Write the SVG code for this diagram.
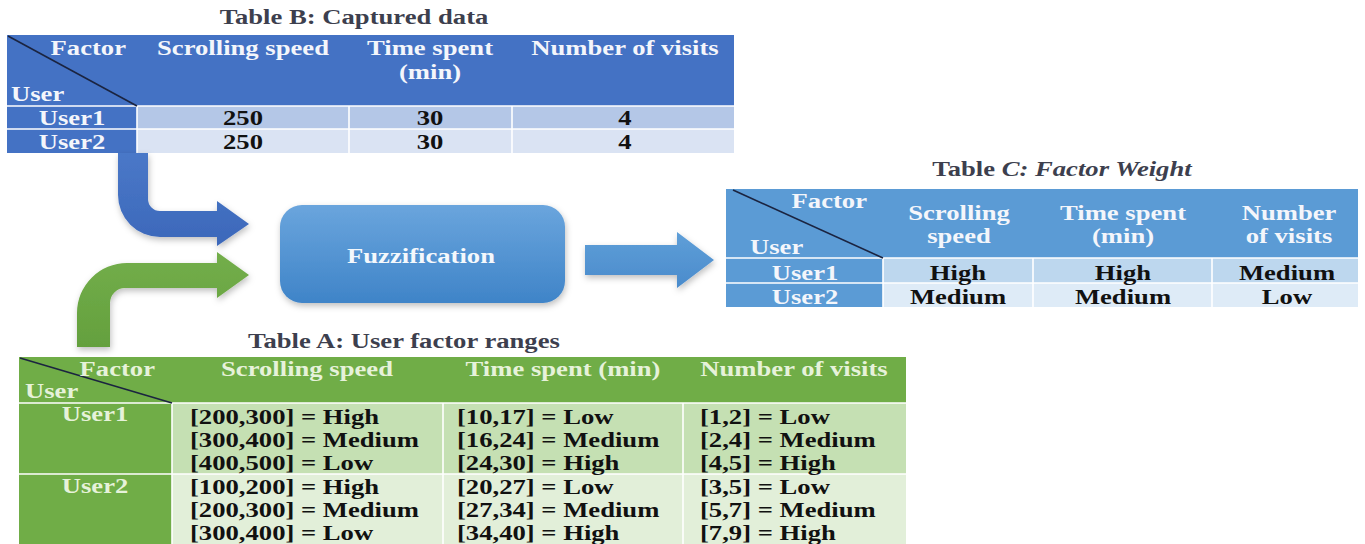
<svg xmlns="http://www.w3.org/2000/svg" width="1365" height="544" viewBox="0 0 1365 544">
<defs>
<style>
text{font-family:"Liberation Serif","Times New Roman",serif;font-weight:bold;font-size:20.5px;fill:#111}
.mid{text-anchor:middle}
.end{text-anchor:end}
.hb{fill:#f4f6fb}
.ha{fill:#e6f2da}
.title{fill:#3d3f4e}
.wl{stroke:#ffffff;stroke-width:1.6}
.diag{stroke:#1b2440;stroke-width:1.6}
</style>
<linearGradient id="gBlue" x1="0" y1="0" x2="0" y2="1"><stop offset="0" stop-color="#4a78c8"/><stop offset="1" stop-color="#3c68ba"/></linearGradient>
<linearGradient id="gGreen" x1="0" y1="0" x2="0" y2="1"><stop offset="0" stop-color="#73ae4a"/><stop offset="1" stop-color="#64a03e"/></linearGradient>
<linearGradient id="gBox" x1="0" y1="0" x2="0" y2="1"><stop offset="0" stop-color="#6aa5dd"/><stop offset="1" stop-color="#3f84c8"/></linearGradient>
<linearGradient id="gRight" x1="0" y1="0" x2="0" y2="1"><stop offset="0" stop-color="#5f9fd8"/><stop offset="1" stop-color="#4a8bcc"/></linearGradient>
<filter id="sh" x="-20%" y="-20%" width="140%" height="150%"><feDropShadow dx="1" dy="3" stdDeviation="3" flood-color="#000" flood-opacity="0.25"/></filter>
</defs>
<rect width="1365" height="544" fill="#ffffff"/>

<g id="tableB">
<text class="title mid" font-size="21" transform="translate(354,24) scale(1.3,1)">Table B: Captured data</text>
<rect x="7" y="35" width="727" height="71" fill="#4472c4"/>
<rect x="7" y="106" width="130" height="47" fill="#4472c4"/>
<rect x="137" y="106" width="597" height="23" fill="#b4c7e7"/>
<rect x="137" y="129" width="597" height="24" fill="#dae3f3"/>
<line class="wl" x1="7" y1="106" x2="734" y2="106"/>
<line class="wl" x1="7" y1="129" x2="734" y2="129"/>
<line class="wl" x1="137" y1="106" x2="137" y2="153"/>
<line class="wl" x1="349" y1="106" x2="349" y2="153"/>
<line class="wl" x1="512" y1="106" x2="512" y2="153"/>
<line class="diag" x1="8" y1="36" x2="137" y2="106"/>
<text class="hb end" transform="translate(126,55) scale(1.3,1)">Factor</text>
<text class="hb" transform="translate(11,101) scale(1.3,1)">User</text>
<text class="hb mid" transform="translate(243,55) scale(1.3,1)">Scrolling speed</text>
<text class="hb mid" transform="translate(430,55) scale(1.3,1)">Time spent</text>
<text class="hb mid" transform="translate(430,79) scale(1.3,1)">(min)</text>
<text class="hb mid" transform="translate(625,55) scale(1.3,1)">Number of visits</text>
<text class="hb mid" transform="translate(72,125) scale(1.3,1)">User1</text>
<text class="mid" transform="translate(243,125) scale(1.3,1)">250</text>
<text class="mid" transform="translate(430,125) scale(1.3,1)">30</text>
<text class="mid" transform="translate(625,125) scale(1.3,1)">4</text>
<text class="hb mid" transform="translate(72,149) scale(1.3,1)">User2</text>
<text class="mid" transform="translate(243,149) scale(1.3,1)">250</text>
<text class="mid" transform="translate(430,149) scale(1.3,1)">30</text>
<text class="mid" transform="translate(625,149) scale(1.3,1)">4</text>
</g>

<g id="connectors">
<path filter="url(#sh)" fill="url(#gBlue)" d="M118,153 H148 V199 A12,12 0 0 0 160,211 H217 V201 L249,224 L217,246 V237 H160 A42,42 0 0 1 118,195 Z"/>
<path filter="url(#sh)" fill="url(#gGreen)" d="M77,347 V313 A50,50 0 0 1 127,263 H217 V252 L249,275 L217,298 V288 H125 A15,15 0 0 0 110,303 V347 Z"/>
<path filter="url(#sh)" fill="url(#gRight)" d="M585,245 H677 V232 L714,260 L677,288 V275 H585 Z"/>
</g>

<g id="fuzzification">
<rect x="280" y="205" width="285" height="98" rx="22" fill="url(#gBox)" filter="url(#sh)"/>
<text class="mid" font-size="22.8" style="fill:#f4f8fc" transform="translate(421,263) scale(1.3,1)">Fuzzification</text>
</g>

<g id="tableC">
<text class="title mid" transform="translate(1062,176) scale(1.3,1)">Table <tspan font-style="italic">C: Factor Weight</tspan></text>
<rect x="726" y="189" width="632" height="69" fill="#5b9bd5"/>
<rect x="726" y="258" width="157" height="49" fill="#5b9bd5"/>
<rect x="883" y="258" width="475" height="25" fill="#bdd7ee"/>
<rect x="883" y="283" width="475" height="24" fill="#deebf7"/>
<line class="wl" x1="726" y1="258" x2="1358" y2="258"/>
<line class="wl" x1="726" y1="283" x2="1358" y2="283"/>
<line class="wl" x1="883" y1="258" x2="883" y2="307"/>
<line class="wl" x1="1033" y1="258" x2="1033" y2="307"/>
<line class="wl" x1="1212" y1="258" x2="1212" y2="307"/>
<line class="diag" x1="733" y1="190" x2="883" y2="258"/>
<text class="hb end" transform="translate(867,208) scale(1.3,1)">Factor</text>
<text class="hb" transform="translate(750,254) scale(1.3,1)">User</text>
<text class="hb mid" transform="translate(959,220) scale(1.3,1)">Scrolling</text>
<text class="hb mid" transform="translate(959,243) scale(1.3,1)">speed</text>
<text class="hb mid" transform="translate(1123,220) scale(1.3,1)">Time spent</text>
<text class="hb mid" transform="translate(1123,243) scale(1.3,1)">(min)</text>
<text class="hb mid" transform="translate(1289,220) scale(1.3,1)">Number</text>
<text class="hb mid" transform="translate(1289,243) scale(1.3,1)">of visits</text>
<text class="hb mid" transform="translate(805,280) scale(1.3,1)">User1</text>
<text class="mid" transform="translate(958,280) scale(1.3,1)">High</text>
<text class="mid" transform="translate(1123,280) scale(1.3,1)">High</text>
<text class="mid" transform="translate(1287,280) scale(1.3,1)">Medium</text>
<text class="hb mid" transform="translate(805,304) scale(1.3,1)">User2</text>
<text class="mid" transform="translate(958,304) scale(1.3,1)">Medium</text>
<text class="mid" transform="translate(1123,304) scale(1.3,1)">Medium</text>
<text class="mid" transform="translate(1287,304) scale(1.3,1)">Low</text>
</g>

<g id="tableA">
<text class="title mid" font-size="18.3" transform="translate(404,348) scale(1.3,1)">Table A: User factor ranges</text>
<rect x="19" y="357" width="887" height="46" fill="#70ad47"/>
<rect x="19" y="403" width="153" height="141" fill="#70ad47"/>
<rect x="172" y="403" width="734" height="71" fill="#c5e0b3"/>
<rect x="172" y="474" width="734" height="70" fill="#e2efd9"/>
<line class="wl" x1="19" y1="403" x2="906" y2="403"/>
<line class="wl" x1="19" y1="474" x2="906" y2="474"/>
<line class="wl" x1="172" y1="403" x2="172" y2="544"/>
<line class="wl" x1="443" y1="403" x2="443" y2="544"/>
<line class="wl" x1="683" y1="403" x2="683" y2="544"/>
<line class="diag" x1="20" y1="358" x2="172" y2="403"/>
<text class="ha end" transform="translate(155,376) scale(1.3,1)">Factor</text>
<text class="ha" transform="translate(25,398) scale(1.3,1)">User</text>
<text class="ha mid" transform="translate(307,376) scale(1.3,1)">Scrolling speed</text>
<text class="ha mid" transform="translate(563,376) scale(1.3,1)">Time spent (min)</text>
<text class="ha mid" transform="translate(794,376) scale(1.3,1)">Number of visits</text>
<text class="ha mid" transform="translate(95,421) scale(1.3,1)">User1</text>
<text class="ha mid" transform="translate(95,493) scale(1.3,1)">User2</text>
<g font-size="21">
<text transform="translate(190,424) scale(1.3,1)">[200,300] = High</text>
<text transform="translate(190,447) scale(1.3,1)">[300,400] = Medium</text>
<text transform="translate(190,470) scale(1.3,1)">[400,500] = Low</text>
<text transform="translate(190,494) scale(1.3,1)">[100,200] = High</text>
<text transform="translate(190,517) scale(1.3,1)">[200,300] = Medium</text>
<text transform="translate(190,540) scale(1.3,1)">[300,400] = Low</text>
<text transform="translate(457,424) scale(1.3,1)">[10,17] = Low</text>
<text transform="translate(457,447) scale(1.3,1)">[16,24] = Medium</text>
<text transform="translate(457,470) scale(1.3,1)">[24,30] = High</text>
<text transform="translate(457,494) scale(1.3,1)">[20,27] = Low</text>
<text transform="translate(457,517) scale(1.3,1)">[27,34] = Medium</text>
<text transform="translate(457,540) scale(1.3,1)">[34,40] = High</text>
<text transform="translate(700,424) scale(1.3,1)">[1,2] = Low</text>
<text transform="translate(700,447) scale(1.3,1)">[2,4] = Medium</text>
<text transform="translate(700,470) scale(1.3,1)">[4,5] = High</text>
<text transform="translate(700,494) scale(1.3,1)">[3,5] = Low</text>
<text transform="translate(700,517) scale(1.3,1)">[5,7] = Medium</text>
<text transform="translate(700,540) scale(1.3,1)">[7,9] = High</text>
</g>
</g>
</svg>
